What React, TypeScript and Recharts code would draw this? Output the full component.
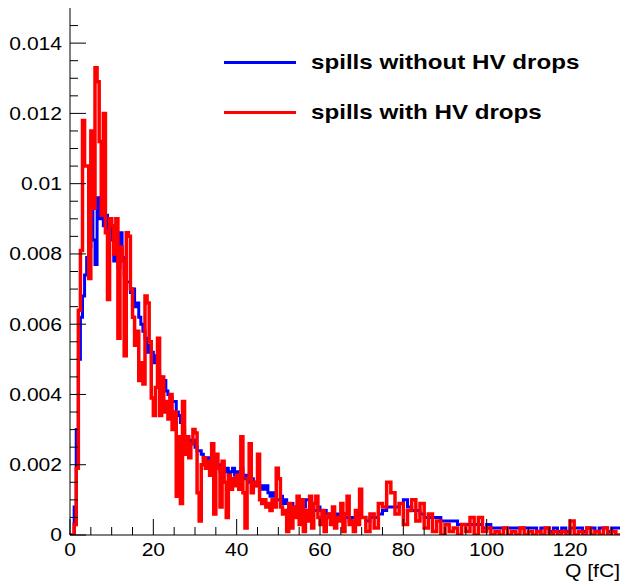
import React from 'react';
import { LineChart, Line, XAxis, YAxis } from 'recharts';

// bin lower edges in fC: 0.5 fC bins up to 70, then 1 fC bins up to 132
const binStarts: number[] = [
  ...Array.from({ length: 140 }, (_, i) => i / 2),
  ...Array.from({ length: 62 }, (_, i) => 70 + i),
];
const xMax = 132;

// spills without HV drops (blue)
const withoutDrops = [
  0, 0, 0.0008, 0.003, 0.005, 0.0062, 0.0068, 0.0074, 0.0079, 0.0082,
  0.01, 0.0084, 0.0077, 0.0096, 0.009, 0.0092, 0.0088, 0.0091, 0.0087, 0.009,
  0.0084, 0.0078, 0.008, 0.0076, 0.0086, 0.0079, 0.0074, 0.0072, 0.0072, 0.0069,
  0.007, 0.0065, 0.0066, 0.0062, 0.006, 0.0058, 0.0056, 0.0052, 0.0054, 0.0052,
  0.0049, 0.0051, 0.0047, 0.0045, 0.0043, 0.0044, 0.0041, 0.004, 0.0039, 0.0038,
  0.0038, 0.0035, 0.0034, 0.0032, 0.003, 0.0028, 0.0028, 0.0027, 0.0026, 0.0027,
  0.0025, 0.0024, 0.0024, 0.0023, 0.0022, 0.0021, 0.0022, 0.002, 0.0021, 0.0019,
  0.0019, 0.002, 0.0018, 0.0019, 0.0018, 0.0019, 0.0017, 0.0018, 0.0019, 0.0017,
  0.0018, 0.0017, 0.0019, 0.0017, 0.0016, 0.0017, 0.0015, 0.0016, 0.0015, 0.0014,
  0.0015, 0.0013, 0.0014, 0.0013, 0.0014, 0.0012, 0.0011, 0.0012, 0.0011, 0.001,
  0.001, 0.0011, 0.0009, 0.001, 0.0009, 0.0008, 0.0009, 0.0008, 0.0008, 0.0007,
  0.0008, 0.0009, 0.0008, 0.001, 0.001, 0.0009, 0.0008, 0.0007, 0.0007, 0.0008,
  0.0007, 0.0006, 0.0007, 0.0006, 0.0006, 0.0006, 0.0007, 0.0005, 0.0006, 0.0005,
  0.0005, 0.0006, 0.0005, 0.0005, 0.0004, 0.0005, 0.0005, 0.0004, 0.0005, 0.0005,
  // 1 fC bins from 70
  0.0005, 0.0004, 0.0005, 0.0005, 0.0006, 0.0007, 0.0008, 0.0008, 0.0008, 0.0009,
  0.001, 0.0008, 0.0007, 0.0007, 0.0006, 0.0005, 0.0005, 0.0005, 0.0005, 0.0004,
  0.0004, 0.0004, 0.0004, 0.0003, 0.0003, 0.0003, 0.0003, 0.0003, 0.0003, 0.0002,
  0.0003, 0.0002, 0.0002, 0.0002, 0.0002, 0.0002, 0.0002, 0.0002, 0.0002, 0.0002,
  0.0002, 0.0002, 0.0001, 0.0002, 0.0002, 0.0001, 0.0002, 0.0001, 0.0002, 0.0001,
  0.0002, 0.0002, 0.0002, 0.0001, 0.0002, 0.0002, 0.0001, 0.0002, 0.0002, 0.0001,
  0.0002, 0.0002,
];

// spills with HV drops (red)
const withDrops = [
  0, 0, 0.0003, 0.0019, 0.0064, 0.0081, 0.0118, 0.0105, 0.0105, 0.0073,
  0.0115, 0.0093, 0.0133, 0.0129, 0.0112, 0.0091, 0.012, 0.0086, 0.0067, 0.009,
  0.0088, 0.008, 0.009, 0.0056, 0.0082, 0.0078, 0.0051, 0.0086, 0.0085, 0.007,
  0.0062, 0.0054, 0.0058, 0.0044, 0.0049, 0.0043, 0.0068, 0.0066, 0.0055, 0.0039,
  0.0034, 0.0042, 0.0056, 0.0034, 0.0045, 0.0035, 0.0038, 0.0033, 0.004, 0.003,
  0.0035, 0.0011, 0.0028, 0.0009, 0.0038, 0.0023, 0.0028, 0.0022, 0.0026, 0.003,
  0.0029, 0.0012, 0.0004, 0.002, 0.0022, 0.0019, 0.0021, 0.0017, 0.0026, 0.0006,
  0.0023, 0.0019, 0.0008, 0.0021, 0.0015, 0.0005, 0.0017, 0.0013, 0.0016, 0.0014,
  0.0017, 0.0013, 0.0028, 0.0012, 0.0002, 0.0016, 0.0026, 0.0012, 0.0015, 0.0014,
  0.0023, 0.001, 0.0009, 0.001, 0.0008, 0.0009, 0.0007, 0.001, 0.0008, 0.0019,
  0.0016, 0.0008, 0.0006, 0.0007, 0.0001, 0.0009, 0.0002, 0.0008, 0.0005, 0.0011,
  0.0003, 0.001, 0.0001, 0.0007, 0.0004, 0.0011, 0.0002, 0.0009, 0.0011, 0.0005,
  0.0003, 0.0007, 0.0001, 0.0005, 0.0006, 0.0003, 0.0008, 0.0002, 0.0005, 0.0004,
  0.0009, 0.0001, 0.0006, 0.0011, 0.0003, 0.0004, 0.0001, 0.0007, 0.0003, 0.0013,
  // 1 fC bins from 70
  0.0005, 0.0001, 0.0006, 0.0002, 0.0009, 0.0008, 0.0015, 0.0012, 0.0006, 0.0009,
  0.0003, 0.0007, 0.001, 0.0004, 0.0009, 0.0002, 0.0006, 0.0001, 0.0004, 0,
  0.0003, 0.0001, 0.0002, 0, 0.0003, 0.0001, 0.0005, 0, 0.0005, 0.0001,
  0.0002, 0, 0.0001, 0, 0.0002, 0, 0.0001, 0, 0.0002, 0,
  0.0001, 0, 0.0001, 0, 0.0002, 0, 0.0001, 0, 0.0001, 0,
  0.0004, 0, 0.0001, 0, 0.0002, 0, 0.0001, 0, 0.0002, 0,
  0.0001, 0,
];

const yTicks = [
  0, 0.0005, 0.001, 0.0015, 0.002, 0.0025, 0.003, 0.0035, 0.004, 0.0045,
  0.005, 0.0055, 0.006, 0.0065, 0.007, 0.0075, 0.008, 0.0085, 0.009, 0.0095,
  0.01, 0.0105, 0.011, 0.0115, 0.012, 0.0125, 0.013, 0.0135, 0.014, 0.0145,
];
const yLabels = [0, 0.002, 0.004, 0.006, 0.008, 0.01, 0.012, 0.014];
const xTicks = [0, 5, 10, 15, 20, 25, 30, 35, 40, 45, 50, 55, 60, 65, 70, 75, 80, 85, 90, 95, 100, 105, 110, 115, 120, 125, 130];
const xLabels = [0, 20, 40, 60, 80, 100, 120];

const FONT = '"Liberation Sans", Arial, Helvetica, sans-serif';

const data = binStarts.map((q, i) => ({ q, blue: withoutDrops[i], red: withDrops[i] }));
data.push({
  q: xMax,
  blue: withoutDrops[withoutDrops.length - 1],
  red: withDrops[withDrops.length - 1],
});

const renderYTick = (props: any) => {
  const { x, y, payload } = props;
  const major = yLabels.includes(payload.value);
  return (
    <g>
      <line x1={x} y1={y} x2={x + (major ? 16 : 8)} y2={y} stroke="#000" strokeWidth={1} />
      {major && (
        <text
          transform={`translate(${x - 8},${y}) scale(1.17,1)`}
          textAnchor="end"
          dominantBaseline="central"
          fontSize={18}
          fontFamily={FONT}
          fill="#000"
        >
          {String(payload.value)}
        </text>
      )}
    </g>
  );
};

const renderXTick = (props: any) => {
  const { x, y, payload } = props;
  const major = xLabels.includes(payload.value);
  return (
    <g>
      <line x1={x} y1={y} x2={x} y2={y - (major ? 16 : 8)} stroke="#000" strokeWidth={1} />
      {major && (
        <text
          transform={`translate(${x},${y + 15}) scale(1.17,1)`}
          textAnchor="middle"
          dominantBaseline="central"
          fontSize={18}
          fontFamily={FONT}
          fill="#000"
        >
          {String(payload.value)}
        </text>
      )}
    </g>
  );
};

const legendText: React.CSSProperties = {
  position: 'absolute',
  left: 311,
  height: 24,
  lineHeight: '24px',
  fontFamily: FONT,
  fontWeight: 'bold',
  fontSize: 21,
  color: '#000',
  whiteSpace: 'nowrap',
  transform: 'scaleX(1.15)',
  transformOrigin: '0 50%',
};

export default function App() {
  return (
    <div style={{ position: 'absolute', left: 0, top: 0, width: 621, height: 585, background: '#fff' }}>
      <LineChart width={621} height={585} data={data} margin={{ top: 8, right: 1, bottom: 0, left: 0 }}>
        <XAxis
          dataKey="q"
          type="number"
          domain={[0, xMax]}
          ticks={xTicks}
          interval={0}
          tick={renderXTick}
          tickLine={false}
          tickSize={0}
          tickMargin={0}
          axisLine={{ stroke: '#000' }}
          height={50}
          allowDataOverflow
        />
        <YAxis
          type="number"
          domain={[0, 0.015]}
          ticks={yTicks}
          interval={0}
          tick={renderYTick}
          tickLine={false}
          tickSize={0}
          tickMargin={0}
          axisLine={{ stroke: '#000' }}
          width={70}
          allowDataOverflow
        />
        <Line type="stepAfter" dataKey="blue" stroke="#0000ff" strokeWidth={3} dot={false} isAnimationActive={false} />
        <Line type="stepAfter" dataKey="red" stroke="#ff0000" strokeWidth={3.5} dot={false} isAnimationActive={false} />
      </LineChart>

      <div style={{ position: 'absolute', left: 224, top: 61, width: 72, height: 3, background: '#0000ff' }} />
      <div style={{ ...legendText, top: 50 }}>spills without HV drops</div>
      <div style={{ position: 'absolute', left: 224, top: 111, width: 72, height: 3, background: '#ff0000' }} />
      <div style={{ ...legendText, top: 100 }}>spills with HV drops</div>

      <div
        style={{
          position: 'absolute',
          right: 1,
          top: 559,
          height: 24,
          lineHeight: '24px',
          fontFamily: FONT,
          fontSize: 18,
          color: '#000',
          whiteSpace: 'nowrap',
          transform: 'scaleX(1.17)',
          transformOrigin: '100% 50%',
        }}
      >
        Q [fC]
      </div>
    </div>
  );
}
